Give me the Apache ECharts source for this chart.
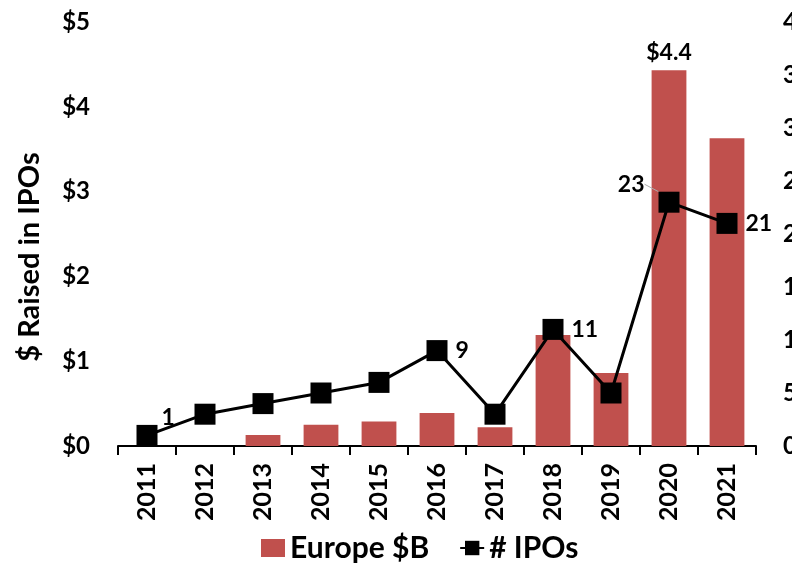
<!DOCTYPE html>
<html><head><meta charset="utf-8">
<script src="https://cdn.jsdelivr.net/npm/echarts@6/dist/echarts.min.js"></script>
<style>html,body{margin:0;padding:0;background:#fff}#c{width:792px;height:568px}</style>
</head><body><div id="c"></div>
<script>
var years = ['2011','2012','2013','2014','2015','2016','2017','2018','2019','2020','2021'];
var europeB = [0, 0, 0.13, 0.25, 0.29, 0.39, 0.22, 1.31, 0.86, 4.43, 3.63];
var ipos = [1, 3, 4, 5, 6, 9, 3, 11, 5, 23, 21];
var leftTicks = [0, 1, 2, 3, 4, 5];
var rightTicks = [0, 5, 10, 15, 20, 25, 30, 35, 40];
var labeledIpos = [0, 5, 7, 9, 10];
var labeledBars = [9];

var FONT = 'Lato';
var chart = echarts.init(document.getElementById('c'));

var barData = europeB.map(function (v, i) {
  var d = { value: v };
  if (labeledBars.indexOf(i) >= 0) {
    d.label = { show: true, position: 'top', distance: 6, formatter: '$' + v.toFixed(1),
      fontFamily: FONT, fontSize: 23, fontWeight: 'bold', color: '#000' };
  }
  return d;
});

var lineData = ipos.map(function (v, i) {
  var d = { value: v };
  if (labeledIpos.indexOf(i) >= 0) {
    var lb = { show: true, position: 'right', distance: 8, formatter: String(v),
      fontFamily: FONT, fontSize: 23, fontWeight: 'bold', color: '#000' };
    if (i === 0) { lb.distance = 4; }
    if (i === 9) {
      lb.position = 'left'; lb.distance = 6;
      d.labelLine = { show: true, lineStyle: { color: '#aaa', width: 1 } };
    }
    d.label = lb;
  }
  return d;
});

chart.setOption({
  animation: false,
  textStyle: { fontFamily: FONT },
  grid: { left: 118, right: 36, top: 22, bottom: 122, containLabel: false, outerBoundsMode: 'none' },
  legend: {
    bottom: 0, left: 256, itemGap: 30, itemWidth: 24, itemHeight: 18,
    textStyle: { fontFamily: FONT, fontSize: 30, fontWeight: 'bold', color: '#000' },
    data: [
      { name: 'Europe $B', icon: 'rect' },
      { name: '# IPOs' }
    ]
  },
  xAxis: {
    type: 'category', data: years, boundaryGap: true,
    axisLine: { lineStyle: { color: '#000', width: 2 } },
    axisTick: { show: true, length: 9, lineStyle: { color: '#000', width: 2 }, alignWithLabel: false },
    axisLabel: { rotate: 90, color: '#000', fontFamily: FONT, fontSize: 25, fontWeight: 'bold', margin: 17 }
  },
  yAxis: [
    {
      type: 'value', min: 0, max: 5, interval: 1,
      name: '$ Raised in IPOs', nameLocation: 'middle', nameGap: 74, nameRotate: 90,
      nameTextStyle: { fontFamily: FONT, fontSize: 29, fontWeight: 'bold', color: '#000', padding: [0, 46, 0, 0] },
      axisLine: { show: false }, axisTick: { show: false }, splitLine: { show: false },
      axisLabel: { color: '#000', fontFamily: FONT, fontSize: 24, fontWeight: 'bold', margin: 28,
        formatter: function (v) { return '$' + v; } }
    },
    {
      type: 'value', min: 0, max: 40, interval: 5,
      axisLine: { show: false }, axisTick: { show: false }, splitLine: { show: false },
      axisLabel: { color: '#000', fontFamily: FONT, fontSize: 24, fontWeight: 'bold', margin: 27 }
    }
  ],
  series: [
    {
      name: 'Europe $B', type: 'bar', yAxisIndex: 0, data: barData,
      barCategoryGap: '40%',
      itemStyle: { color: '#C0504D' }
    },
    {
      name: '# IPOs', type: 'line', yAxisIndex: 1, data: lineData,
      symbol: 'rect', symbolSize: 21,
      lineStyle: { color: '#000', width: 3 },
      itemStyle: { color: '#000' },
      labelLayout: function (p) {
        if (p.dataIndex === 9) { return { dx: -8, dy: -18 }; }
        if (p.dataIndex === 0) { return { dx: 0, dy: -18 }; }
        return {};
      },
      labelLine: { show: false },
      z: 3
    }
  ]
});
</script></body></html>
